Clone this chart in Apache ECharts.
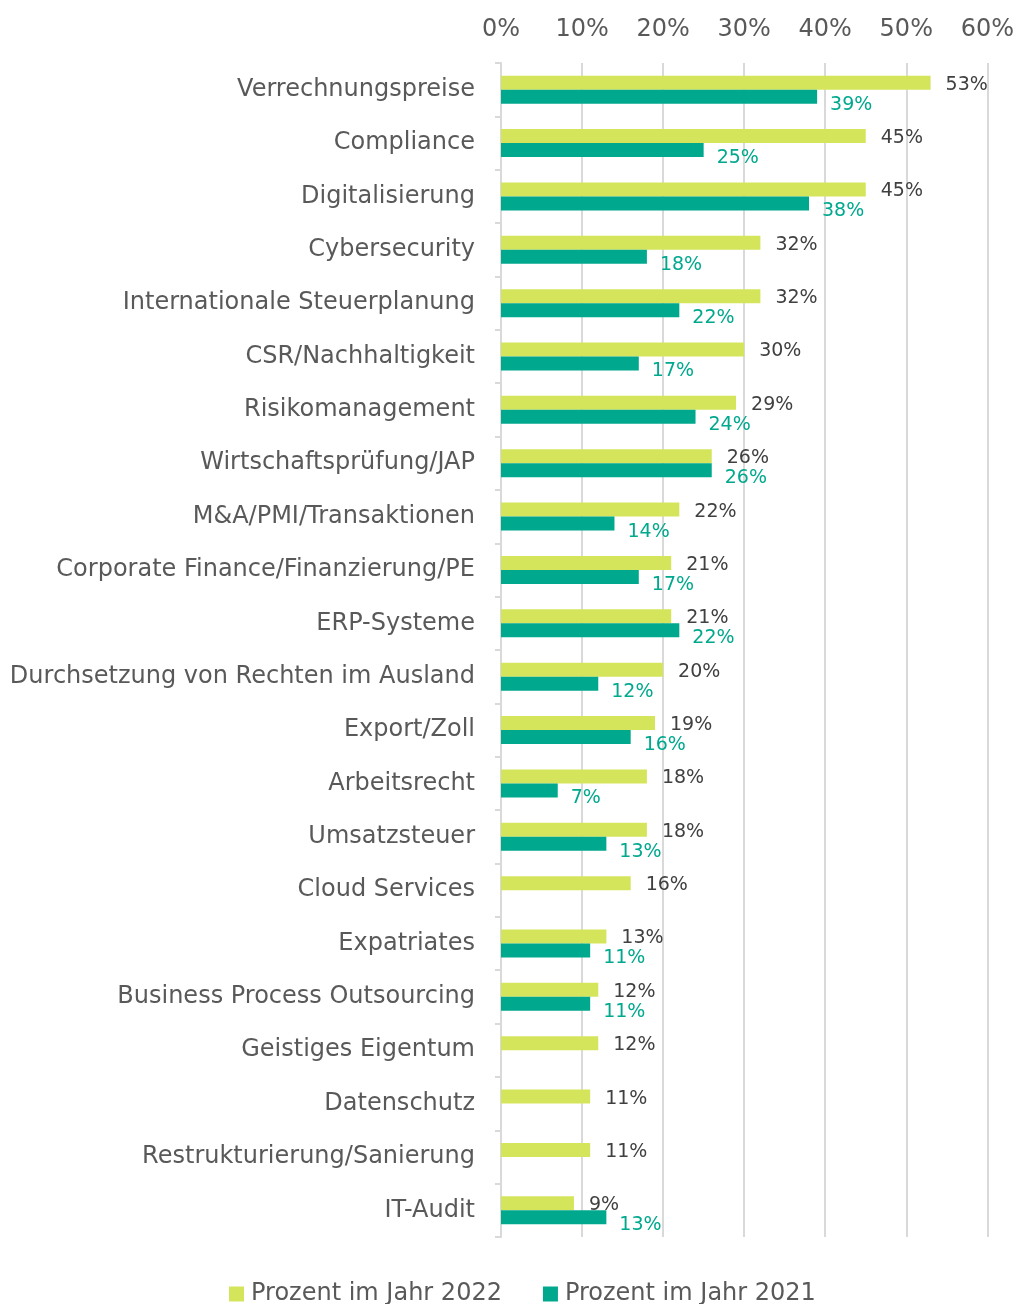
<!DOCTYPE html>
<html lang="de">
<head>
    <meta charset="UTF-8">
    <title>Themen</title>
    <script src="https://cdn.jsdelivr.net/npm/echarts@6/dist/echarts.min.js"></script>
    <style>
        html, body { margin: 0; padding: 0; background: #fff; }
        #main { width: 1017px; height: 1304px; }
    </style>
</head>
<body>
<div id="main"></div>
<script>
    // Kategorien von oben nach unten
    var categories = ['Verrechnungspreise', 'Compliance', 'Digitalisierung', 'Cybersecurity',
        'Internationale Steuerplanung', 'CSR/Nachhaltigkeit', 'Risikomanagement',
        'Wirtschaftsprüfung/JAP', 'M&A/PMI/Transaktionen', 'Corporate Finance/Finanzierung/PE',
        'ERP-Systeme', 'Durchsetzung von Rechten im Ausland', 'Export/Zoll', 'Arbeitsrecht',
        'Umsatzsteuer', 'Cloud Services', 'Expatriates', 'Business Process Outsourcing',
        'Geistiges Eigentum', 'Datenschutz', 'Restrukturierung/Sanierung', 'IT-Audit'];
    var values2022 = [53, 45, 45, 32, 32, 30, 29, 26, 22, 21, 21, 20, 19, 18, 18, 16, 13, 12, 12, 11, 11, 9];
    var values2021 = [39, 25, 38, 18, 22, 17, 24, 26, 14, 17, 22, 12, 16, 7, 13, null, 11, 11, null, null, null, 13];
    var xTicks = [0, 10, 20, 30, 40, 50, 60];

    var font = '"DejaVu Sans", sans-serif';
    var myChart = echarts.init(document.getElementById('main'));

    var option = {
        animation: false,
        textStyle: { fontFamily: font },
        grid: { left: 501, right: 29, top: 63, bottom: 67 },
        legend: {
            top: 1277,
            left: 224,
            itemWidth: 15,
            itemHeight: 15,
            itemGap: 41,
            icon: 'rect',
            textStyle: { fontSize: 24, color: '#595959', fontFamily: font, padding: [0, 0, 0, 2] },
            data: ['Prozent im Jahr 2022', 'Prozent im Jahr 2021']
        },
        xAxis: {
            type: 'value',
            position: 'top',
            min: xTicks[0],
            max: xTicks[xTicks.length - 1],
            interval: 10,
            axisLine: { show: false },
            axisTick: { show: false },
            axisLabel: {
                formatter: '{value}%',
                fontSize: 24,
                color: '#595959',
                margin: 21
            },
            splitLine: { lineStyle: { color: '#d9d9d9', width: 2 } }
        },
        yAxis: {
            type: 'category',
            inverse: true,
            data: categories,
            axisLine: { lineStyle: { color: '#d9d9d9', width: 2 } },
            axisTick: { show: true, length: 6, lineStyle: { color: '#d9d9d9', width: 2 } },
            axisLabel: { fontSize: 24, color: '#595959', margin: 26, padding: [4, 0, 0, 0] }
        },
        series: [{
            name: 'Prozent im Jahr 2022',
            type: 'bar',
            data: values2022,
            barWidth: 14,
            barGap: '0%',
            itemStyle: { color: '#d5e55b' },
            label: {
                show: true,
                position: 'right',
                distance: 15,
                offset: [0, 2],
                formatter: '{c}%',
                fontSize: 19,
                color: '#404040'
            }
        }, {
            name: 'Prozent im Jahr 2021',
            type: 'bar',
            data: values2021,
            barWidth: 14,
            itemStyle: { color: '#00a88e' },
            label: {
                show: true,
                position: 'right',
                distance: 13,
                offset: [0, 8],
                formatter: '{c}%',
                fontSize: 19,
                color: '#00a88e'
            }
        }]
    };
    myChart.setOption(option);
</script>
</body>
</html>
